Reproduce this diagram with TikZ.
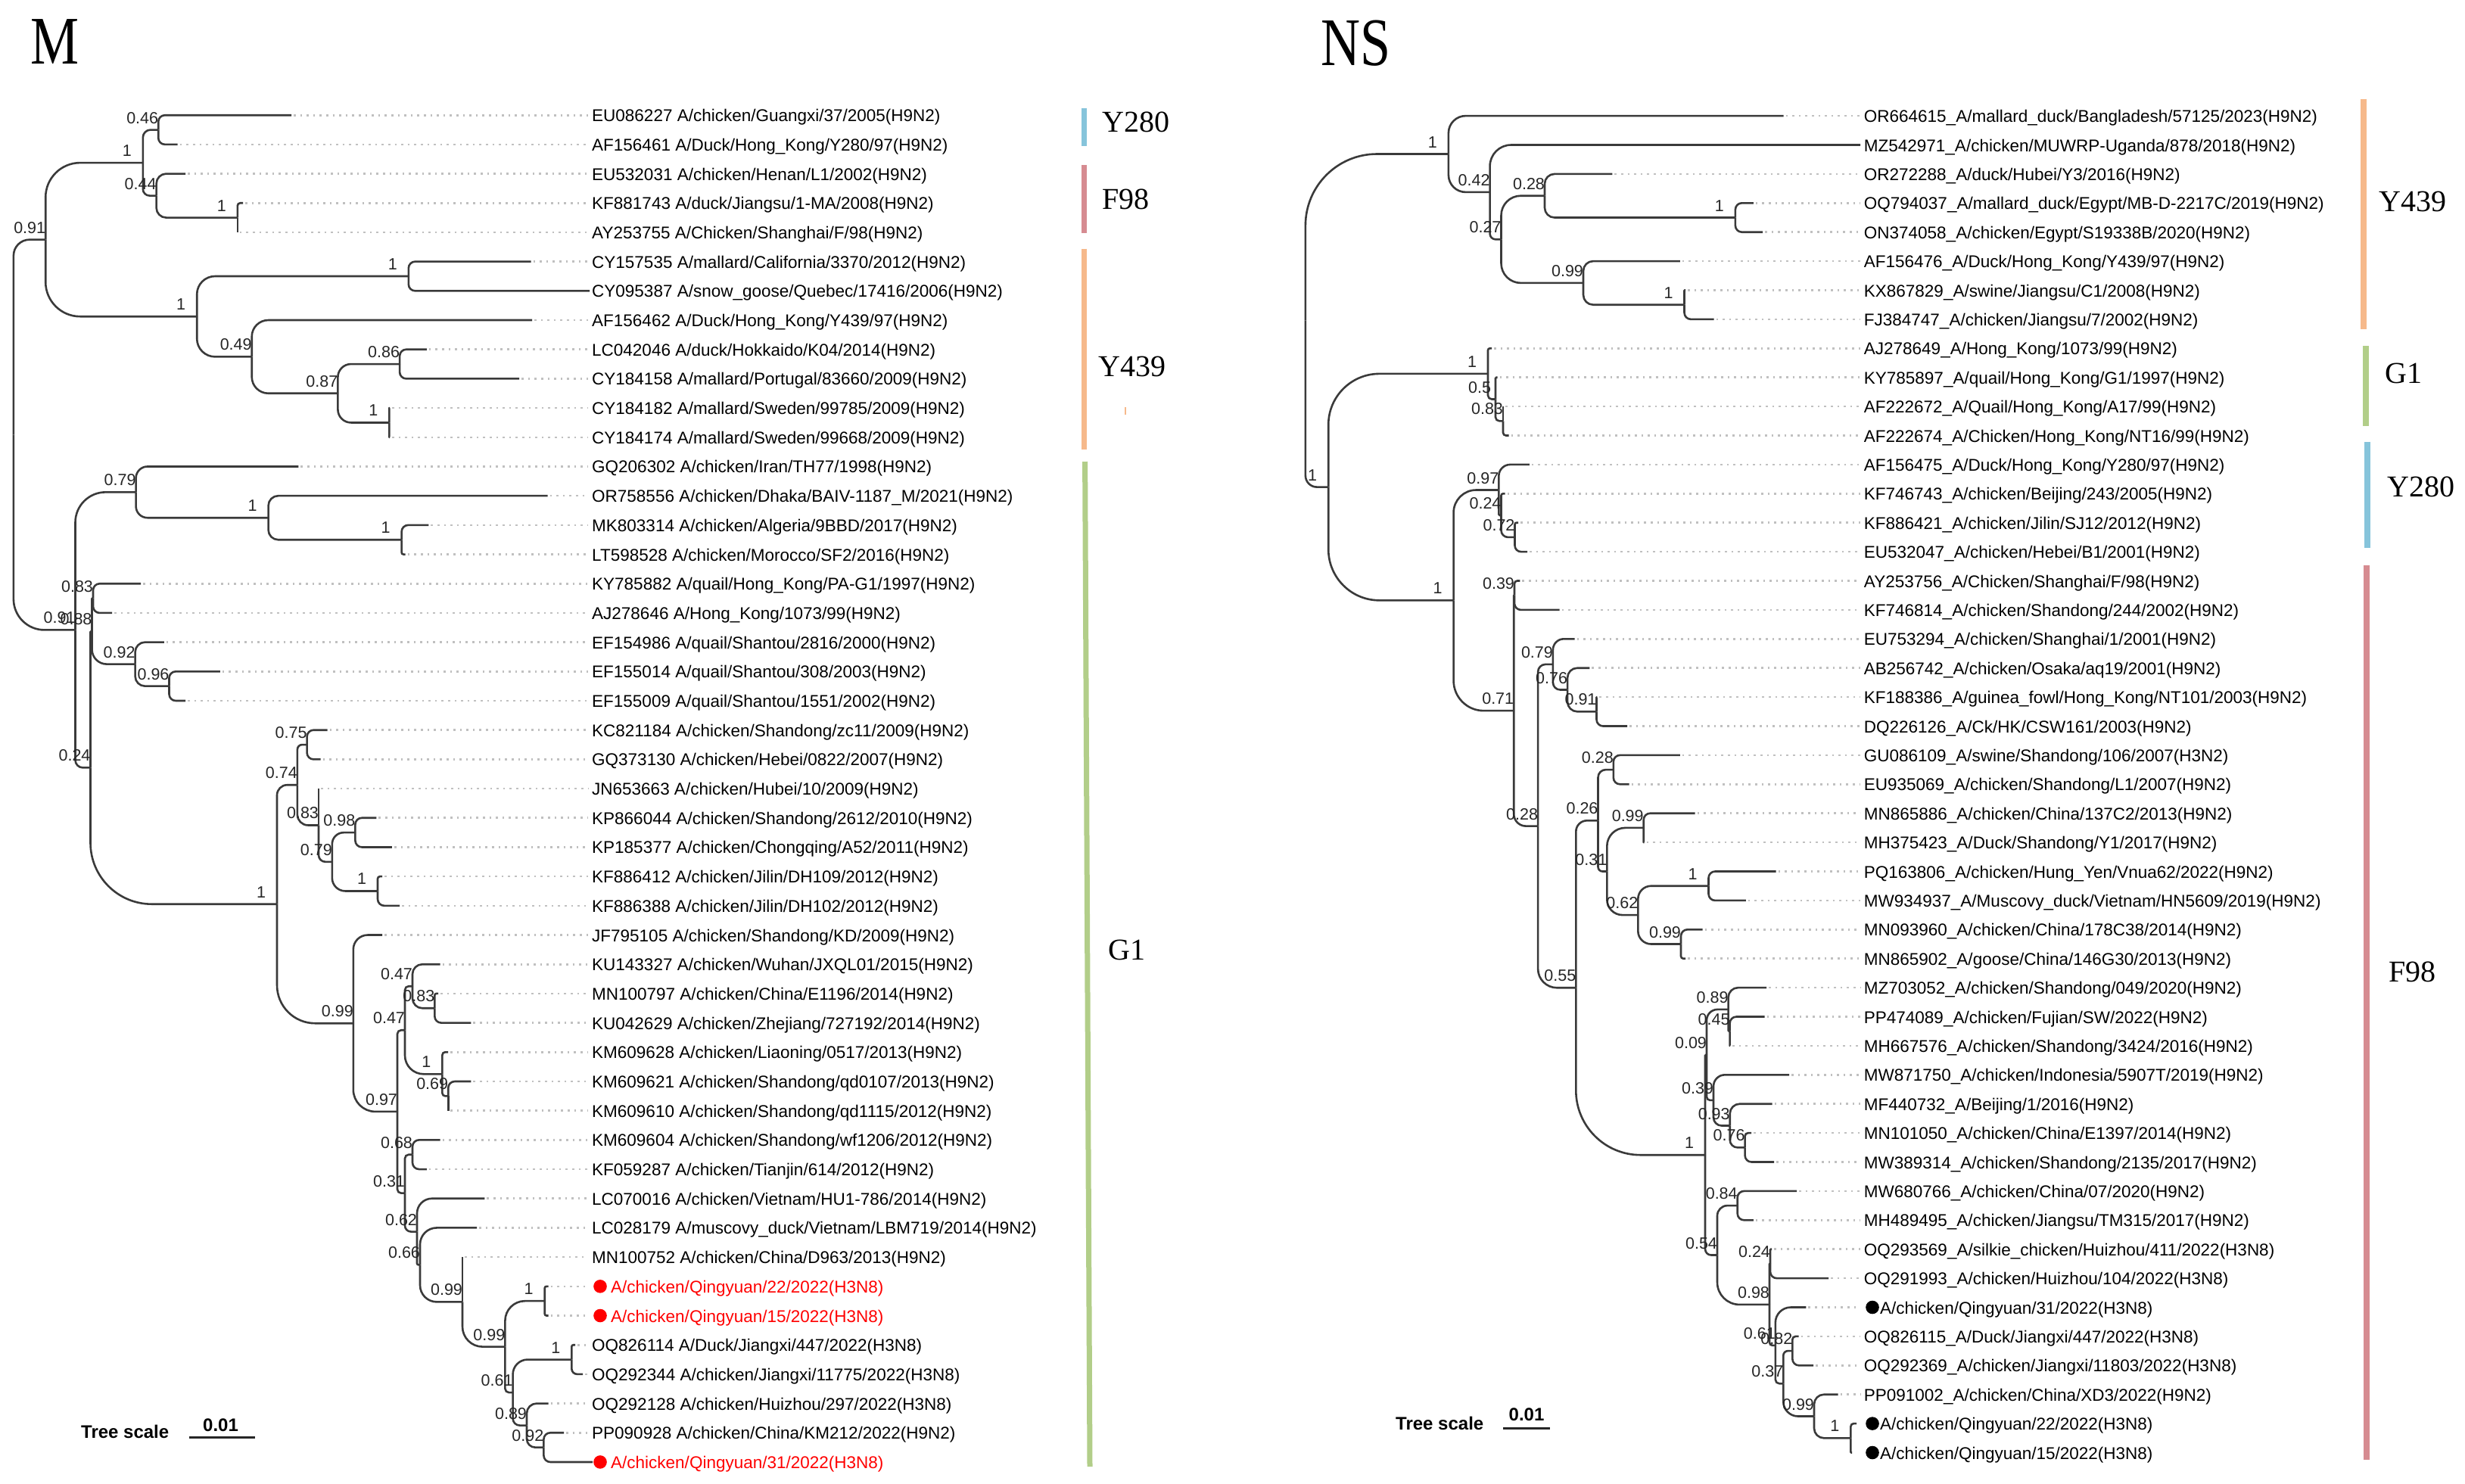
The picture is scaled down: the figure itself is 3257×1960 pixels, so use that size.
\documentclass[tikz,border=0pt]{standalone}
\usepackage{fontspec}
\setmainfont{Liberation Serif}
\newfontfamily\lsans{Liberation Sans}
\usetikzlibrary{calc}
\definecolor{cYa}{RGB}{134,196,219}
\definecolor{cFn}{RGB}{214,139,145}
\definecolor{cYb}{RGB}{246,185,139}
\definecolor{cGo}{RGB}{178,206,137}
\definecolor{brc}{RGB}{58,58,58}
\definecolor{ldc}{RGB}{192,192,192}
\tikzset{
  branch/.style={draw=brc, line width=2.6pt},
  lead/.style={draw=ldc, line width=2.6pt, dash pattern=on 2.6pt off 6pt, shorten >=5pt, shorten <=3pt},
  tiplab/.style={font=\lsans\fontsize{22.5}{26}\selectfont, anchor=base west, inner sep=0pt, yshift=-8.5pt},
  bslab/.style={font=\lsans\fontsize{21.5}{25}\selectfont, anchor=base, inner sep=0pt, text=black!85},
  clab/.style={font=\fontsize{40}{44}\selectfont, anchor=west, inner sep=0pt},
  cbar/.style={line width=7pt},
  ttl/.style={font=\fontsize{90}{96}\selectfont, anchor=base west, inner sep=0pt},
  scl/.style={font=\lsans\bfseries\fontsize{24}{28}\selectfont, anchor=base west, inner sep=0pt}
}
\newcommand\tbr[2]{\draw[branch] let \p1=(#1), \p2=(#2), \n1={min(0.5*abs(\x2-\x1),0.45*abs(\y2-\y1))} in [rounded corners=\n1] (\p1) |- (\p2);}
\newcommand\bs[2]{\node[bslab] (b#1) at ($(#1)+(-21,-8.5)$) {#2};}
\newcommand\lfL[3]{\coordinate (m#1) at (#2,{152.2+38.69*(#1-1)});
  \node[tiplab] (mt#1) at (782,{152.2+38.69*(#1-1)}) {#3};}
\newcommand\lfLr[3]{\coordinate (m#1) at (#2,{152.2+38.69*(#1-1)});
  \node[tiplab,text=red] (mt#1) at (782,{152.2+38.69*(#1-1)}) {\hspace*{25pt}#3};
  \node[circle,fill=red,inner sep=0pt,minimum size=17.6pt] (md#1) at (793,{152.2+38.69*(#1-1)}) {};}
\newcommand\lfR[3]{\coordinate (n#1) at (#2,{153.1+38.4*(#1-1)});
  \node[tiplab] (nt#1) at (2462.7,{153.1+38.4*(#1-1)}) {#3};}
\newcommand\lfRb[3]{\coordinate (n#1) at (#2,{153.1+38.4*(#1-1)});
  \node[tiplab] (nt#1) at (2462.7,{153.1+38.4*(#1-1)}) {\hspace*{21.3pt}#3};
  \node[circle,fill=black,inner sep=0pt,minimum size=17.6pt] (nd#1) at (2474,{153.1+38.4*(#1-1)}) {};}
\begin{document}
\begin{tikzpicture}[x=1pt,y=-1pt]
\useasboundingbox (0,0) rectangle (3257,1960);
% titles
\node[ttl] (tM) at (40,84) {\scalebox{0.8}[1]{M}};
\node[ttl] (tNS) at (1745,86) {\scalebox{0.8}[1]{NS}};
% ================= M tree =================
\coordinate (MR) at (17.9,574.5);
\coordinate (ME) at (60.2,316.65);
\coordinate (MD) at (188.8,215.1);
\coordinate (MA) at (209.2,171.55);
\coordinate (MB) at (206.6,258.6);
\coordinate (MC) at (313.8,287.6);
\coordinate (MF) at (260.2,418.2);
\coordinate (MG) at (539.8,365.0);
\coordinate (MH) at (332.7,471.4);
\coordinate (MI) at (446.4,519.75);
\coordinate (MJ) at (528.1,481.05);
\coordinate (MK) at (514.3,558.45);
\coordinate (MP) at (99.5,832.4);
\coordinate (MM) at (179.6,650.35);
\coordinate (MN) at (354.6,684.2);
\coordinate (MO) at (530.6,713.25);
\coordinate (MQ) at (119.5,1014.4);
\coordinate (MV) at (121.5,834.1);
\coordinate (MS) at (123,790.55);
\coordinate (MU) at (178.6,877.6);
\coordinate (MW) at (223.5,906.65);
\coordinate (MT) at (366,1194.7);
\coordinate (MX) at (392.9,1037.25);
\coordinate (MZ) at (405.6,984.05);
\coordinate (MAA) at (421,1090.45);
\coordinate (MAB) at (438.8,1138.8);
\coordinate (MAC) at (469.4,1100.15);
\coordinate (MAD) at (499,1177.45);
\coordinate (MY) at (466.8,1352.2);
\coordinate (MAF) at (525,1468.9);
\coordinate (MAI) at (535,1361.25);
\coordinate (MAG) at (545,1303.2);
\coordinate (MAH) at (574.3,1332.25);
\coordinate (MAJ) at (584.4,1419.3);
\coordinate (MAK) at (592.2,1448.35);
\coordinate (MAL) at (535,1576.6);
\coordinate (MAM) at (545,1525.7);
\coordinate (MAN) at (551,1627.55);
\coordinate (MAO) at (555,1671.4);
\coordinate (MAP) at (611,1720.35);
\coordinate (MAQ) at (667.4,1779.6);
\coordinate (MAR) at (719.7,1719.15);
\coordinate (MAS) at (677.6,1840.1);
\coordinate (MAT) at (755.3,1796.55);
\coordinate (MAU) at (696,1883.6);
\coordinate (MAV) at (718.4,1912.6);
% leaves M
\lfL{1}{385}{EU086227 A/chicken/Guangxi/37/2005(H9N2)}
\lfL{2}{234.7}{AF156461 A/Duck/Hong\_Kong/Y280/97(H9N2)}
\lfL{3}{245}{EU532031 A/chicken/Henan/L1/2002(H9N2)}
\lfL{4}{321}{KF881743 A/duck/Jiangsu/1-MA/2008(H9N2)}
\lfL{5}{313.8}{AY253755 A/Chicken/Shanghai/F/98(H9N2)}
\lfL{6}{701.5}{CY157535 A/mallard/California/3370/2012(H9N2)}
\lfL{7}{779}{CY095387 A/snow\_goose/Quebec/17416/2006(H9N2)}
\lfL{8}{703}{AF156462 A/Duck/Hong\_Kong/Y439/97(H9N2)}
\lfL{9}{563.8}{LC042046 A/duck/Hokkaido/K04/2014(H9N2)}
\lfL{10}{686.2}{CY184158 A/mallard/Portugal/83660/2009(H9N2)}
\lfL{11}{515}{CY184182 A/mallard/Sweden/99785/2009(H9N2)}
\lfL{12}{515}{CY184174 A/mallard/Sweden/99668/2009(H9N2)}
\lfL{13}{394.4}{GQ206302 A/chicken/Iran/TH77/1998(H9N2)}
\lfL{14}{723.5}{OR758556 A/chicken/Dhaka/BAIV-1187\_M/2021(H9N2)}
\lfL{15}{566.3}{MK803314 A/chicken/Algeria/9BBD/2017(H9N2)}
\lfL{16}{535.7}{LT598528 A/chicken/Morocco/SF2/2016(H9N2)}
\lfL{17}{186}{KY785882 A/quail/Hong\_Kong/PA-G1/1997(H9N2)}
\lfL{18}{148}{AJ278646 A/Hong\_Kong/1073/99(H9N2)}
\lfL{19}{216.8}{EF154986 A/quail/Shantou/2816/2000(H9N2)}
\lfL{20}{290.8}{EF155014 A/quail/Shantou/308/2003(H9N2)}
\lfL{21}{245}{EF155009 A/quail/Shantou/1551/2002(H9N2)}
\lfL{22}{432.6}{KC821184 A/chicken/Shandong/zc11/2009(H9N2)}
\lfL{23}{423.5}{GQ373130 A/chicken/Hebei/0822/2007(H9N2)}
\lfL{24}{421}{JN653663 A/chicken/Hubei/10/2009(H9N2)}
\lfL{25}{497.4}{KP866044 A/chicken/Shandong/2612/2010(H9N2)}
\lfL{26}{517.9}{KP185377 A/chicken/Chongqing/A52/2011(H9N2)}
\lfL{27}{505}{KF886412 A/chicken/Jilin/DH109/2012(H9N2)}
\lfL{28}{528}{KF886388 A/chicken/Jilin/DH102/2012(H9N2)}
\lfL{29}{505}{JF795105 A/chicken/Shandong/KD/2009(H9N2)}
\lfL{30}{581.6}{KU143327 A/chicken/Wuhan/JXQL01/2015(H9N2)}
\lfL{31}{579}{MN100797 A/chicken/China/E1196/2014(H9N2)}
\lfL{32}{622.4}{KU042629 A/chicken/Zhejiang/727192/2014(H9N2)}
\lfL{33}{592}{KM609628 A/chicken/Liaoning/0517/2013(H9N2)}
\lfL{34}{622.4}{KM609621 A/chicken/Shandong/qd0107/2013(H9N2)}
\lfL{35}{592.2}{KM609610 A/chicken/Shandong/qd1115/2012(H9N2)}
\lfL{36}{581.6}{KM609604 A/chicken/Shandong/wf1206/2012(H9N2)}
\lfL{37}{563.8}{KF059287 A/chicken/Tianjin/614/2012(H9N2)}
\lfL{38}{640.3}{LC070016 A/chicken/Vietnam/HU1-786/2014(H9N2)}
\lfL{39}{630}{LC028179 A/muscovy\_duck/Vietnam/LBM719/2014(H9N2)}
\lfL{40}{611}{MN100752 A/chicken/China/D963/2013(H9N2)}
\lfLr{41}{724.5}{A/chicken/Qingyuan/22/2022(H3N8)}
\lfLr{42}{724.5}{A/chicken/Qingyuan/15/2022(H3N8)}
\lfL{43}{760}{OQ826114 A/Duck/Jiangxi/447/2022(H3N8)}
\lfL{44}{770}{OQ292344 A/chicken/Jiangxi/11775/2022(H3N8)}
\lfL{45}{724.5}{OQ292128 A/chicken/Huizhou/297/2022(H3N8)}
\lfL{46}{745}{PP090928 A/chicken/China/KM212/2022(H9N2)}
\lfLr{47}{783}{A/chicken/Qingyuan/31/2022(H3N8)}
\foreach \i in {1,...,6} \draw[lead] (m\i) -- (m\i -| mt\i.west);
\foreach \i in {8,...,46} \draw[lead] (m\i) -- (m\i -| mt\i.west);
% branches M
\tbr{MR}{ME}\tbr{MR}{MP}
\tbr{ME}{MD}\tbr{ME}{MF}
\tbr{MD}{MA}\tbr{MD}{MB}
\tbr{MA}{m1}\tbr{MA}{m2}
\tbr{MB}{m3}\tbr{MB}{MC}
\tbr{MC}{m4}\tbr{MC}{m5}
\tbr{MF}{MG}\tbr{MF}{MH}
\tbr{MG}{m6}\tbr{MG}{m7}
\tbr{MH}{m8}\tbr{MH}{MI}
\tbr{MI}{MJ}\tbr{MI}{MK}
\tbr{MJ}{m9}\tbr{MJ}{m10}
\tbr{MK}{m11}\tbr{MK}{m12}
\tbr{MP}{MM}\tbr{MP}{MQ}
\tbr{MM}{m13}\tbr{MM}{MN}
\tbr{MN}{m14}\tbr{MN}{MO}
\tbr{MO}{m15}\tbr{MO}{m16}
\tbr{MQ}{MV}\tbr{MQ}{MT}
\tbr{MV}{MS}\tbr{MV}{MU}
\tbr{MS}{m17}\tbr{MS}{m18}
\tbr{MU}{m19}\tbr{MU}{MW}
\tbr{MW}{m20}\tbr{MW}{m21}
\tbr{MT}{MX}\tbr{MT}{MY}
\tbr{MX}{MZ}\tbr{MX}{MAA}
\tbr{MZ}{m22}\tbr{MZ}{m23}
\tbr{MAA}{m24}\tbr{MAA}{MAB}
\tbr{MAB}{MAC}\tbr{MAB}{MAD}
\tbr{MAC}{m25}\tbr{MAC}{m26}
\tbr{MAD}{m27}\tbr{MAD}{m28}
\tbr{MY}{m29}\tbr{MY}{MAF}
\tbr{MAF}{MAI}\tbr{MAF}{MAL}
\tbr{MAI}{MAG}\tbr{MAI}{MAJ}
\tbr{MAG}{m30}\tbr{MAG}{MAH}
\tbr{MAH}{m31}\tbr{MAH}{m32}
\tbr{MAJ}{m33}\tbr{MAJ}{MAK}
\tbr{MAK}{m34}\tbr{MAK}{m35}
\tbr{MAL}{MAM}\tbr{MAL}{MAN}
\tbr{MAM}{m36}\tbr{MAM}{m37}
\tbr{MAN}{m38}\tbr{MAN}{MAO}
\tbr{MAO}{m39}\tbr{MAO}{MAP}
\tbr{MAP}{m40}\tbr{MAP}{MAQ}
\tbr{MAQ}{MAR}\tbr{MAQ}{MAS}
\tbr{MAR}{m41}\tbr{MAR}{m42}
\tbr{MAS}{MAT}\tbr{MAS}{MAU}
\tbr{MAT}{m43}\tbr{MAT}{m44}
\tbr{MAU}{m45}\tbr{MAU}{MAV}
\tbr{MAV}{m46}\tbr{MAV}{m47}
% bootstrap M
\bs{ME}{0.91}\bs{MD}{1}\bs{MA}{0.46}\bs{MB}{0.44}\bs{MC}{1}
\bs{MF}{1}\bs{MG}{1}\bs{MH}{0.49}\bs{MI}{0.87}\bs{MJ}{0.86}\bs{MK}{1}
\bs{MP}{0.91}\bs{MV}{0.88}\bs{MM}{0.79}\bs{MN}{1}\bs{MO}{1}
\bs{MS}{0.83}\bs{MU}{0.92}\bs{MW}{0.96}\bs{MQ}{0.24}
\bs{MT}{1}\bs{MX}{0.74}\bs{MZ}{0.75}\bs{MAA}{0.83}\bs{MAB}{0.79}\bs{MAC}{0.98}\bs{MAD}{1}
\bs{MY}{0.99}\bs{MAG}{0.47}\bs{MAH}{0.83}\bs{MAI}{0.47}\bs{MAJ}{1}\bs{MAK}{0.69}
\bs{MAF}{0.97}\bs{MAM}{0.68}\bs{MAL}{0.31}\bs{MAN}{0.62}\bs{MAO}{0.66}
\bs{MAP}{0.99}\bs{MAQ}{0.99}\bs{MAR}{1}\bs{MAS}{0.61}\bs{MAT}{1}\bs{MAU}{0.89}\bs{MAV}{0.92}
% clade bars M
\draw[cbar,cYa] (1432,143) -- (1432,193);
\draw[cbar,cFn] (1432,218.4) -- (1432,308.2);
\draw[cbar,cYb] (1432,328.6) -- (1432,594);
\draw[cbar,cGo] (1433.6,610) -- (1440,1938);
\draw[cYb,line width=2pt] (1487,538) -- (1487,548);
\node[clab] (cM1) at (1456,161) {Y280};
\node[clab] (cM2) at (1456,263) {F98};
\node[clab] (cM3) at (1451,484) {Y439};
\node[clab] (cM4) at (1464,1255) {G1};
% scale M
\node[scl] (tsM) at (107,1900) {Tree scale};
\node[scl] (svM) at (268,1891.5) {0.01};
\coordinate (sbM1) at (250,1899.5);
\coordinate (sbM2) at (336.7,1899.5);
\draw[draw=black!85,line width=3pt] (sbM1) -- (sbM2);
% ================= NS tree =================
\coordinate (SR) at (1724.9,423.6);
\coordinate (S1) at (1913.9,203.5);
\coordinate (S3) at (1968.6,253.9);
\coordinate (S4) at (1983.5,316.3);
\coordinate (S5) at (2041,258.7);
\coordinate (S7) at (2292.9,287.5);
\coordinate (S6) at (2092,373.9);
\coordinate (S8) at (2225.5,402.7);
\coordinate (S2) at (1755.2,643.6);
\coordinate (S9) at (1966,493.9);
\coordinate (S10) at (1976,527.5);
\coordinate (S11) at (1986,556.3);
\coordinate (S12) at (1920.6,793.3);
\coordinate (S13) at (1980.3,647.5);
\coordinate (S14) at (1983.5,681.1);
\coordinate (S15) at (2001.5,709.9);
\coordinate (S16) at (2000.2,939.15);
\coordinate (S17) at (2001,786.7);
\coordinate (S18) at (2032.1,1091.6);
\coordinate (S19) at (2051.9,877.9);
\coordinate (S21) at (2071.1,911.5);
\coordinate (S22) at (2109.5,940.3);
\coordinate (S20) at (2082.3,1305.25);
\coordinate (S23) at (2111.5,1084.3);
\coordinate (S25) at (2131.8,1017.1);
\coordinate (S26) at (2123.3,1151.5);
\coordinate (S27) at (2171.7,1093.9);
\coordinate (S28) at (2164.3,1209.1);
\coordinate (S29) at (2257.5,1170.7);
\coordinate (S30) at (2221,1247.5);
\coordinate (S24) at (2253,1526.2);
\coordinate (S31) at (2255,1393.9);
\coordinate (S33) at (2283.6,1333.9);
\coordinate (S35) at (2285.6,1362.7);
\coordinate (S34) at (2264,1453.9);
\coordinate (S36) at (2285.7,1487.5);
\coordinate (S37) at (2305.6,1516.3);
\coordinate (S32) at (2269,1658.5);
\coordinate (S38) at (2295.7,1593.1);
\coordinate (S39) at (2338,1723.9);
\coordinate (S40) at (2339,1669.9);
\coordinate (S41) at (2345.8,1777.9);
\coordinate (S43) at (2356.3,1828.3);
\coordinate (S42) at (2368.3,1785.1);
\coordinate (S44) at (2397,1871.5);
\coordinate (S45) at (2445.4,1900.3);
% leaves NS
\lfR{1}{2356.6}{OR664615\_A/mallard\_duck/Bangladesh/57125/2023(H9N2)}
\lfR{2}{2458}{MZ542971\_A/chicken/MUWRP-Uganda/878/2018(H9N2)}
\lfR{3}{2130.3}{OR272288\_A/duck/Hubei/Y3/2016(H9N2)}
\lfR{4}{2316.8}{OQ794037\_A/mallard\_duck/Egypt/MB-D-2217C/2019(H9N2)}
\lfR{5}{2329.2}{ON374058\_A/chicken/Egypt/S19338B/2020(H9N2)}
\lfR{6}{2219.8}{AF156476\_A/Duck/Hong\_Kong/Y439/97(H9N2)}
\lfR{7}{2227}{KX867829\_A/swine/Jiangsu/C1/2008(H9N2)}
\lfR{8}{2264.5}{FJ384747\_A/chicken/Jiangsu/7/2002(H9N2)}
\lfR{9}{1971}{AJ278649\_A/Hong\_Kong/1073/99(H9N2)}
\lfR{10}{1978.5}{KY785897\_A/quail/Hong\_Kong/G1/1997(H9N2)}
\lfR{11}{1986}{AF222672\_A/Quail/Hong\_Kong/A17/99(H9N2)}
\lfR{12}{1993.5}{AF222674\_A/Chicken/Hong\_Kong/NT16/99(H9N2)}
\lfR{13}{2020.8}{AF156475\_A/Duck/Hong\_Kong/Y280/97(H9N2)}
\lfR{14}{1988.5}{KF746743\_A/chicken/Beijing/243/2005(H9N2)}
\lfR{15}{2006}{KF886421\_A/chicken/Jilin/SJ12/2012(H9N2)}
\lfR{16}{2018}{EU532047\_A/chicken/Hebei/B1/2001(H9N2)}
\lfR{17}{2008.4}{AY253756\_A/Chicken/Shanghai/F/98(H9N2)}
\lfR{18}{2060.6}{KF746814\_A/chicken/Shandong/244/2002(H9N2)}
\lfR{19}{2080.5}{EU753294\_A/chicken/Shanghai/1/2001(H9N2)}
\lfR{20}{2100.4}{AB256742\_A/chicken/Osaka/aq19/2001(H9N2)}
\lfR{21}{2110.4}{KF188386\_A/guinea\_fowl/Hong\_Kong/NT101/2003(H9N2)}
\lfR{22}{2150}{DQ226126\_A/Ck/HK/CSW161/2003(H9N2)}
\lfR{23}{2219.8}{GU086109\_A/swine/Shandong/106/2007(H3N2)}
\lfR{24}{2152.6}{EU935069\_A/chicken/Shandong/L1/2007(H9N2)}
\lfR{25}{2239.7}{MN865886\_A/chicken/China/137C2/2013(H9N2)}
\lfR{26}{2172.5}{MH375423\_A/Duck/Shandong/Y1/2017(H9N2)}
\lfR{27}{2346.6}{PQ163806\_A/chicken/Hung\_Yen/Vnua62/2022(H9N2)}
\lfR{28}{2306.8}{MW934937\_A/Muscovy\_duck/Vietnam/HN5609/2019(H9N2)}
\lfR{29}{2249.6}{MN093960\_A/chicken/China/178C38/2014(H9N2)}
\lfR{30}{2227.2}{MN865902\_A/goose/China/146G30/2013(H9N2)}
\lfR{31}{2334.2}{MZ703052\_A/chicken/Shandong/049/2020(H9N2)}
\lfR{32}{2331.7}{PP474089\_A/chicken/Fujian/SW/2022(H9N2)}
\lfR{33}{2286}{MH667576\_A/chicken/Shandong/3424/2016(H9N2)}
\lfR{34}{2364}{MW871750\_A/chicken/Indonesia/5907T/2019(H9N2)}
\lfR{35}{2341.6}{MF440732\_A/Beijing/1/2016(H9N2)}
\lfR{36}{2314}{MN101050\_A/chicken/China/E1397/2014(H9N2)}
\lfR{37}{2344}{MW389314\_A/chicken/Shandong/2135/2017(H9N2)}
\lfR{38}{2374}{MW680766\_A/chicken/China/07/2020(H9N2)}
\lfR{39}{2316.8}{MH489495\_A/chicken/Jiangsu/TM315/2017(H9N2)}
\lfR{40}{2341}{OQ293569\_A/silkie\_chicken/Huizhou/411/2022(H3N8)}
\lfR{41}{2416}{OQ291993\_A/chicken/Huizhou/104/2022(H3N8)}
\lfRb{42}{2386.4}{A/chicken/Qingyuan/31/2022(H3N8)}
\lfR{43}{2376.5}{OQ826115\_A/Duck/Jiangxi/447/2022(H3N8)}
\lfR{44}{2396}{OQ292369\_A/chicken/Jiangxi/11803/2022(H3N8)}
\lfR{45}{2428.7}{PP091002\_A/chicken/China/XD3/2022(H9N2)}
\lfRb{46}{2453}{A/chicken/Qingyuan/22/2022(H3N8)}
\lfRb{47}{2447}{A/chicken/Qingyuan/15/2022(H3N8)}
\draw[lead] (n1) -- (n1 -| nt1.west);
\foreach \i in {3,...,45} \draw[lead] (n\i) -- (n\i -| nt\i.west);
% branches NS
\tbr{SR}{S1}\tbr{SR}{S2}
\tbr{S1}{n1}\tbr{S1}{S3}
\tbr{S3}{n2}\tbr{S3}{S4}
\tbr{S4}{S5}\tbr{S4}{S6}
\tbr{S5}{n3}\tbr{S5}{S7}
\tbr{S7}{n4}\tbr{S7}{n5}
\tbr{S6}{n6}\tbr{S6}{S8}
\tbr{S8}{n7}\tbr{S8}{n8}
\tbr{S2}{S9}\tbr{S2}{S12}
\tbr{S9}{n9}\tbr{S9}{S10}
\tbr{S10}{n10}\tbr{S10}{S11}
\tbr{S11}{n11}\tbr{S11}{n12}
\tbr{S12}{S13}\tbr{S12}{S16}
\tbr{S13}{n13}\tbr{S13}{S14}
\tbr{S14}{n14}\tbr{S14}{S15}
\tbr{S15}{n15}\tbr{S15}{n16}
\tbr{S16}{S17}\tbr{S16}{S18}
\tbr{S17}{n17}\tbr{S17}{n18}
\tbr{S18}{S19}\tbr{S18}{S20}
\tbr{S19}{n19}\tbr{S19}{S21}
\tbr{S21}{n20}\tbr{S21}{S22}
\tbr{S22}{n21}\tbr{S22}{n22}
\tbr{S20}{S23}\tbr{S20}{S24}
\tbr{S23}{S25}\tbr{S23}{S26}
\tbr{S25}{n23}\tbr{S25}{n24}
\tbr{S26}{S27}\tbr{S26}{S28}
\tbr{S27}{n25}\tbr{S27}{n26}
\tbr{S28}{S29}\tbr{S28}{S30}
\tbr{S29}{n27}\tbr{S29}{n28}
\tbr{S30}{n29}\tbr{S30}{n30}
\tbr{S24}{S31}\tbr{S24}{S32}
\tbr{S31}{S33}\tbr{S31}{S34}
\tbr{S33}{n31}\tbr{S33}{S35}
\tbr{S35}{n32}\tbr{S35}{n33}
\tbr{S34}{n34}\tbr{S34}{S36}
\tbr{S36}{n35}\tbr{S36}{S37}
\tbr{S37}{n36}\tbr{S37}{n37}
\tbr{S32}{S38}\tbr{S32}{S39}
\tbr{S38}{n38}\tbr{S38}{n39}
\tbr{S39}{S40}\tbr{S39}{S41}
\tbr{S40}{n40}\tbr{S40}{n41}
\tbr{S41}{n42}\tbr{S41}{S43}
\tbr{S43}{S42}\tbr{S43}{S44}
\tbr{S42}{n43}\tbr{S42}{n44}
\tbr{S44}{n45}\tbr{S44}{S45}
\tbr{S45}{n46}\tbr{S45}{n47}
% bootstrap NS
\bs{S1}{1}\bs{S3}{0.42}\bs{S4}{0.27}\bs{S5}{0.28}\bs{S7}{1}\bs{S6}{0.99}\bs{S8}{1}
\bs{S2}{1}\bs{S9}{1}\bs{S10}{0.5}\bs{S11}{0.83}
\bs{S12}{1}\bs{S13}{0.97}\bs{S14}{0.24}\bs{S15}{0.72}
\bs{S16}{0.71}\bs{S17}{0.39}\bs{S18}{0.28}\bs{S19}{0.79}\bs{S21}{0.76}\bs{S22}{0.91}
\bs{S20}{0.55}\bs{S23}{0.26}\bs{S25}{0.28}\bs{S26}{0.31}\bs{S27}{0.99}\bs{S28}{0.62}
\bs{S29}{1}\bs{S30}{0.99}\bs{S24}{1}\bs{S31}{0.09}\bs{S33}{0.89}\bs{S35}{0.45}
\bs{S34}{0.39}\bs{S36}{0.93}\bs{S37}{0.76}\bs{S32}{0.54}\bs{S38}{0.84}\bs{S39}{0.98}
\bs{S40}{0.24}\bs{S41}{0.61}\bs{S43}{0.37}\bs{S42}{0.82}\bs{S44}{0.99}\bs{S45}{1}
% clade bars NS
\draw[cbar,line width=8pt,cYb] (3122.5,130.6) -- (3122.5,434.6);
\draw[cbar,line width=8pt,cGo] (3125.7,457) -- (3125.7,563);
\draw[cbar,line width=8pt,cYa] (3128.3,583.5) -- (3128.3,724);
\draw[cbar,line width=8pt,cFn] (3127.3,746.5) -- (3127.3,1929);
\node[clab] (cN1) at (3143,266) {Y439};
\node[clab] (cN2) at (3151,493) {G1};
\node[clab] (cN3) at (3154,643) {Y280};
\node[clab] (cN4) at (3156,1284) {F98};
% scale NS
\node[scl] (tsN) at (1844,1889.5) {Tree scale};
\node[scl] (svN) at (1993.5,1877.8) {0.01};
\coordinate (sbN1) at (1986,1887);
\coordinate (sbN2) at (2048,1887);
\draw[draw=black!85,line width=3pt] (sbN1) -- (sbN2);
\end{tikzpicture}
\end{document}
